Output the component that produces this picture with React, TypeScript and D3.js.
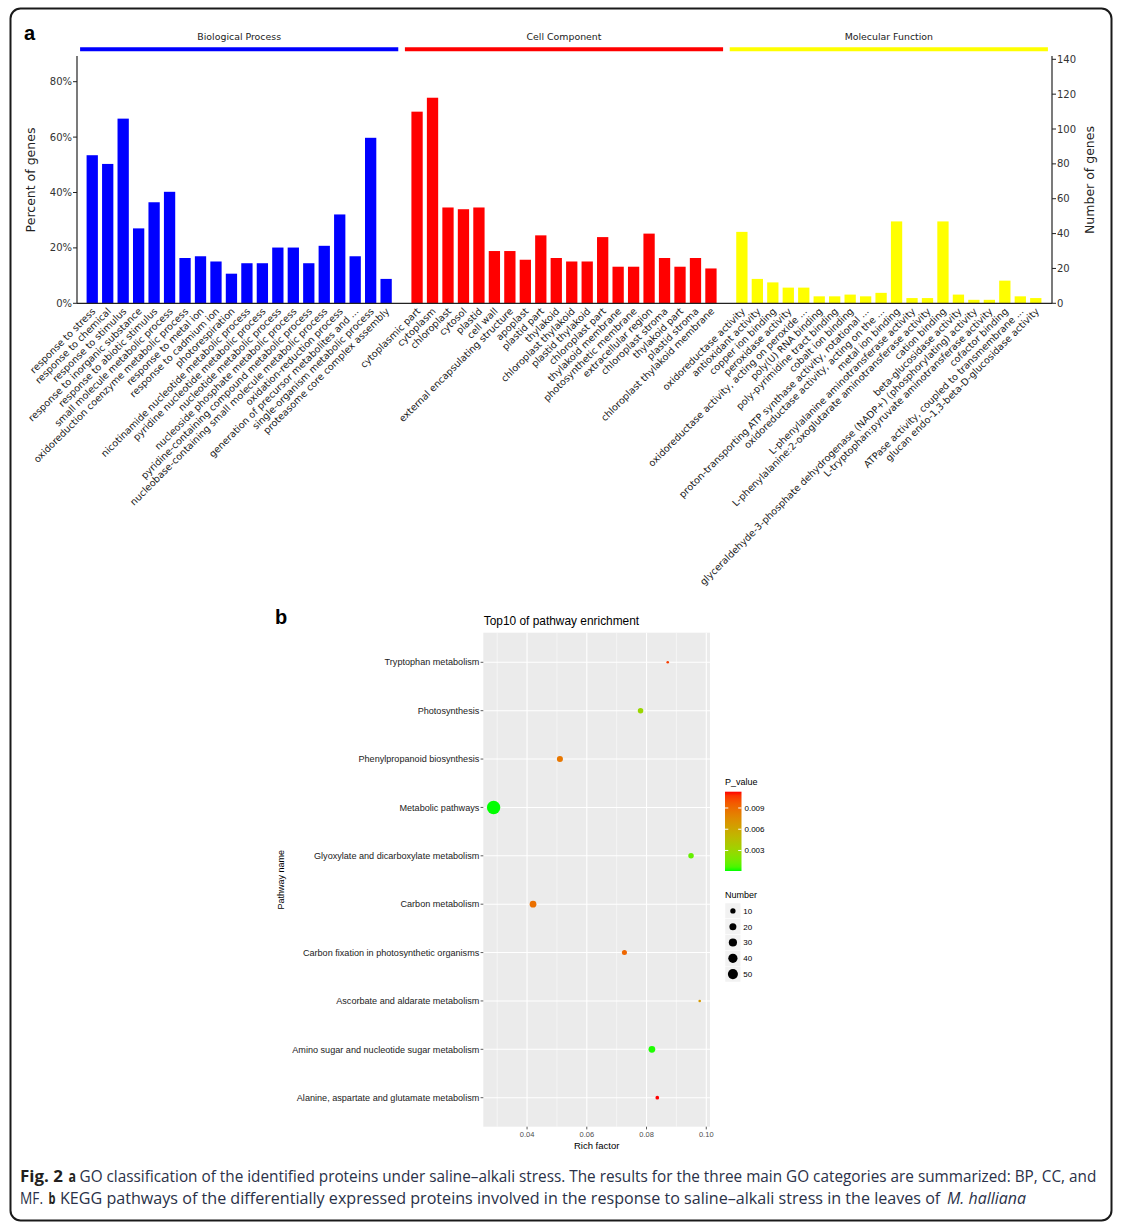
import React, { useLayoutEffect, useRef, useState } from 'react';
import * as d3 from 'd3';

// ---------- Panel a: GO classification ----------
const bpTerms = [
  'response to stress', 'response to chemical', 'response to stimulus', 'response to inorganic substance',
  'response to abiotic stimulus', 'small molecule metabolic process', 'oxidoreduction coenzyme metabolic process',
  'response to metal ion', 'response to cadmium ion', 'photorespiration', 'nicotinamide nucleotide metabolic process',
  'pyridine nucleotide metabolic process', 'nucleotide metabolic process', 'nucleoside phosphate metabolic process',
  'pyridine-containing compound metabolic process', 'nucleobase-containing small molecule metabolic process',
  'oxidation-reduction process', 'generation of precursor metabolites and ...', 'single-organism metabolic process',
  'proteasome core complex assembly',
];
const bpCounts = [85, 80, 106, 43, 58, 64, 26, 27, 24, 17, 23, 23, 32, 32, 23, 33, 51, 27, 95, 14];

const ccTerms = [
  'cytoplasmic part', 'cytoplasm', 'chloroplast', 'cytosol', 'plastid', 'cell wall', 'external encapsulating structure',
  'apoplast', 'plastid part', 'thylakoid', 'chloroplast thylakoid', 'plastid thylakoid', 'chloroplast part',
  'thylakoid membrane', 'photosynthetic membrane', 'extracellular region', 'chloroplast stroma', 'thylakoid part',
  'plastid stroma', 'chloroplast thylakoid membrane',
];
const ccCounts = [110, 118, 55, 54, 55, 30, 30, 25, 39, 26, 24, 24, 38, 21, 21, 40, 26, 21, 26, 20];

const mfTerms = [
  'oxidoreductase activity', 'antioxidant activity', 'copper ion binding', 'peroxidase activity',
  'oxidoreductase activity, acting on peroxide ...', 'poly(U) RNA binding', 'poly-pyrimidine tract binding',
  'cobalt ion binding', 'proton-transporting ATP synthase activity, rotational ...',
  'oxidoreductase activity, acting on the ...', 'metal ion binding', 'L-phenylalanine aminotransferase activity',
  'L-phenylalanine:2-oxoglutarate aminotransferase activity', 'cation binding', 'beta-glucosidase activity',
  'glyceraldehyde-3-phosphate dehydrogenase (NADP+) (phosphorylating) activity',
  'L-tryptophan:pyruvate aminotransferase activity', 'cofactor binding',
  'ATPase activity, coupled to transmembrane ...', 'glucan endo-1,3-beta-D-glucosidase activity',
];
const mfCounts = [41, 14, 12, 9, 9, 4, 4, 5, 4, 6, 47, 3, 3, 47, 5, 2, 2, 13, 4, 3];

const groupNames = ['Biological Process', 'Cell Component', 'Molecular Function'];
const groupColors = ['#0000FF', '#FF0000', '#FFFF00'];
const totalGenes = 159;
const percentTicks = [0, 20, 40, 60, 80];
const countTicks = [0, 20, 40, 60, 80, 100, 120, 140];

// ---------- Panel b: KEGG enrichment ----------
const pathways = [
  'Tryptophan metabolism', 'Photosynthesis', 'Phenylpropanoid biosynthesis', 'Metabolic pathways',
  'Glyoxylate and dicarboxylate metabolism', 'Carbon metabolism', 'Carbon fixation in photosynthetic organisms',
  'Ascorbate and aldarate metabolism', 'Amino sugar and nucleotide sugar metabolism',
  'Alanine, aspartate and glutamate metabolism',
];
const richFactor = [0.0871, 0.078, 0.051, 0.0288, 0.0949, 0.042, 0.0726, 0.0978, 0.0818, 0.0836];
const pValue = [0.0105, 0.003, 0.0085, 0.0001, 0.0012, 0.0088, 0.0092, 0.0068, 0.0002, 0.0113];
const geneNumber = [4, 11, 14, 100, 11, 18, 9, 4, 18, 5];
const richTicks = [0.04, 0.06, 0.08, 0.1];
const richMinor = [0.03, 0.05, 0.07, 0.09];
const pTicks = [0.003, 0.006, 0.009];
const sizeTicks = [10, 20, 30, 40, 50];

// ---------- caption pieces ----------
const captionPieces = [
  { text: 'Fig. 2', x: 20, y: 1181.5, w: 43, weight: 'bold', style: 'normal' },
  { text: 'a', x: 68.5, y: 1181.5, w: 7.5, weight: 'bold', style: 'normal' },
  { text: 'GO classification of the identified proteins under saline–alkali stress. The results for the three main GO categories are summarized: BP, CC, and', x: 79.5, y: 1181.5, w: 1018, weight: 'normal', style: 'normal' },
  { text: 'MF.', x: 20, y: 1203.5, w: 23, weight: 'normal', style: 'normal' },
  { text: 'b', x: 48.5, y: 1203.5, w: 7, weight: 'bold', style: 'normal' },
  { text: 'KEGG pathways of the differentially expressed proteins involved in the response to saline–alkali stress in the leaves of', x: 60, y: 1203.5, w: 881, weight: 'normal', style: 'normal' },
  { text: 'M. halliana', x: 947, y: 1203.5, w: 79, weight: 'normal', style: 'italic' },
];

const SANS = "'DejaVu Sans', sans-serif";
const ARIAL = "'Liberation Sans', Arial, sans-serif";
const CAP = "'Open Sans', 'DejaVu Sans Condensed', sans-serif";

export default function App() {
  const capRefs = useRef<(SVGTextElement | null)[]>([]);
  const [capScales, setCapScales] = useState<number[]>(captionPieces.map(() => 0.8));
  useLayoutEffect(() => {
    setCapScales(
      captionPieces.map((c, i) => {
        const el = capRefs.current[i];
        if (!el) return 0.8;
        const len = el.getComputedTextLength();
        return len > 0 ? c.w / len : 0.8;
      })
    );
  }, []);

  // ---- top chart scales
  const groups = [
    { name: groupNames[0], color: groupColors[0], terms: bpTerms, counts: bpCounts, key: 'BP' },
    { name: groupNames[1], color: groupColors[1], terms: ccTerms, counts: ccCounts, key: 'CC' },
    { name: groupNames[2], color: groupColors[2], terms: mfTerms, counts: mfCounts, key: 'MF' },
  ];
  const keys: string[] = [];
  groups.forEach((g, gi) => {
    g.terms.forEach((_, i) => keys.push(`${g.key}${i}`));
    if (gi < groups.length - 1) keys.push(`gap${gi}`);
  });
  const x = d3.scaleBand<string>().domain(keys).range([84.5, 1043.5]).paddingInner(0.27).paddingOuter(0.135);
  const bw = x.bandwidth();
  const yPct = d3.scaleLinear().domain([0, 100]).range([303.3, 26.3]);
  const yCnt = d3.scaleLinear().domain([0, 140]).range([303.3, 59.3]);
  const axisL = 77;
  const axisR = 1052;
  const base = yPct(0);

  // ---- bottom chart scales
  const [rMin, rMax] = d3.extent(richFactor) as [number, number];
  const rw = rMax - rMin;
  const px0 = 483.3, px1 = 710, py0 = 632.7, py1 = 1126.7;
  const xr = d3.scaleLinear().domain([rMin - 0.05 * rw, rMax + 0.05 * rw]).range([px0, px1]);
  const yb = d3.scalePoint<string>().domain(pathways).range([662.3, 1097.7]);
  const [pMin, pMax] = d3.extent(pValue) as [number, number];
  const color = d3.scaleLinear<string>().domain([pMin, pMax]).range(['#00FF00', '#FF0000']).interpolate(d3.interpolateLab);
  const [nMin, nMax] = d3.extent(geneNumber) as [number, number];
  const radius = (n: number) => 1.3 + 5.4 * Math.sqrt(Math.max(0, (n - nMin) / (nMax - nMin)));
  const cbTop = 791.7, cbBot = 871, cbX = 725, cbW = 16.5;
  const pY = d3.scaleLinear().domain([pMin, pMax]).range([cbBot, cbTop]);
  const gradStops = d3.range(0, 1.0001, 0.05).map((t) => ({ t, c: color(pMin + t * (pMax - pMin)) }));
  const keySize = 15.8;
  const keyTop = 903;

  return (
    <svg width={1124} height={1226} style={{ position: 'absolute', left: 0, top: 0, background: '#fff' }}>
      <defs>
        <linearGradient id="pgrad" x1="0" y1="1" x2="0" y2="0">
          {gradStops.map((s, i) => (
            <stop key={i} offset={`${s.t * 100}%`} stopColor={s.c} />
          ))}
        </linearGradient>
      </defs>
      <rect x={0} y={0} width={1124} height={1226} fill="#fff" />
      <rect x={10.5} y={8.5} width={1101} height={1212} rx={10} ry={10} fill="none" stroke="#1a1a1a" strokeWidth={2} />

      {/* ---------- panel a ---------- */}
      <text x={24} y={40} fontFamily={ARIAL} fontWeight="bold" fontSize={20} fill="#000">a</text>

      {groups.map((g) => {
        const first = x(`${g.key}0`)!;
        const last = x(`${g.key}${g.terms.length - 1}`)! + bw;
        return (
          <g key={g.key}>
            <line x1={first - 6.5} x2={last + 6.5} y1={49.3} y2={49.3} stroke={g.color} strokeWidth={4} />
            <text x={(first + last) / 2} y={40} textAnchor="middle" fontFamily={SANS} fontSize={9.4} fill="#222">{g.name}</text>
            {g.counts.map((c, i) => {
              const k = `${g.key}${i}`;
              const yv = yPct((c / totalGenes) * 100);
              return <rect key={k} x={x(k)!} y={yv} width={bw} height={base - yv} fill={g.color} />;
            })}
            {g.terms.map((t, i) => {
              const cx = x(`${g.key}${i}`)! + bw / 2;
              return (
                <text key={`l${i}`} transform={`translate(${cx + 1.5},${309.5}) rotate(-45)`} textAnchor="end" dy="0.35em"
                  fontFamily={SANS} fontSize={9.6} fill="#222">{t}</text>
              );
            })}
          </g>
        );
      })}

      {/* axes */}
      <line x1={axisL} x2={axisL} y1={56} y2={base} stroke="#222" strokeWidth={1.2} />
      <line x1={axisR} x2={axisR} y1={56} y2={base} stroke="#222" strokeWidth={1.2} />
      <line x1={axisL} x2={axisR} y1={base} y2={base} stroke="#222" strokeWidth={1.2} />
      {percentTicks.map((t) => (
        <g key={`p${t}`}>
          <line x1={axisL - 4} x2={axisL} y1={yPct(t)} y2={yPct(t)} stroke="#222" />
          <text x={axisL - 5} y={yPct(t)} dy="0.35em" textAnchor="end" fontFamily={SANS} fontSize={10} fill="#333">{`${t}%`}</text>
        </g>
      ))}
      {countTicks.map((t) => (
        <g key={`c${t}`}>
          <line x1={axisR} x2={axisR + 4} y1={yCnt(t)} y2={yCnt(t)} stroke="#222" />
          <text x={axisR + 5} y={yCnt(t)} dy="0.35em" textAnchor="start" fontFamily={SANS} fontSize={10} fill="#333">{t}</text>
        </g>
      ))}
      <text transform={`translate(35,180) rotate(-90)`} textAnchor="middle" fontFamily={SANS} fontSize={12.5} fill="#222">Percent of genes</text>
      <text transform={`translate(1094,180) rotate(-90)`} textAnchor="middle" fontFamily={SANS} fontSize={12.5} fill="#222">Number of genes</text>

      {/* ---------- panel b ---------- */}
      <text x={275} y={624} fontFamily={ARIAL} fontWeight="bold" fontSize={20} fill="#000">b</text>
      <text x={px0 + 0.5} y={625} fontFamily={ARIAL} fontSize={11.9} fill="#000">Top10 of pathway enrichment</text>
      <rect x={px0} y={py0} width={px1 - px0} height={py1 - py0} fill="#EBEBEB" />
      {richMinor.map((t) => (
        <line key={`m${t}`} x1={xr(t)} x2={xr(t)} y1={py0} y2={py1} stroke="#fff" strokeWidth={0.5} />
      ))}
      {richTicks.map((t) => (
        <line key={`g${t}`} x1={xr(t)} x2={xr(t)} y1={py0} y2={py1} stroke="#fff" strokeWidth={1.1} />
      ))}
      {pathways.map((p) => (
        <line key={`h${p}`} x1={px0} x2={px1} y1={yb(p)} y2={yb(p)} stroke="#fff" strokeWidth={1.1} />
      ))}
      {pathways.map((p, i) => (
        <circle key={`d${p}`} cx={xr(richFactor[i])} cy={yb(p)} r={radius(geneNumber[i])} fill={color(pValue[i])} />
      ))}
      {pathways.map((p) => (
        <g key={`yl${p}`}>
          <line x1={px0 - 2.7} x2={px0} y1={yb(p)} y2={yb(p)} stroke="#333" strokeWidth={0.8} />
          <text x={px0 - 4} y={yb(p)} dy="0.35em" textAnchor="end" fontFamily={ARIAL} fontSize={9.1} fill="#222">{p}</text>
        </g>
      ))}
      {richTicks.map((t) => (
        <g key={`xl${t}`}>
          <line x1={xr(t)} x2={xr(t)} y1={py1} y2={py1 + 2.7} stroke="#333" strokeWidth={0.8} />
          <text x={xr(t)} y={py1 + 10} textAnchor="middle" fontFamily={ARIAL} fontSize={7.5} fill="#4D4D4D">{t.toFixed(2)}</text>
        </g>
      ))}
      <text x={(px0 + px1) / 2} y={1149} textAnchor="middle" fontFamily={ARIAL} fontSize={9.5} fill="#000">Rich factor</text>
      <text transform={`translate(284,${(py0 + py1) / 2}) rotate(-90)`} textAnchor="middle" fontFamily={ARIAL} fontSize={9} fill="#000">Pathway name</text>

      {/* legends */}
      <text x={cbX} y={785} fontFamily={ARIAL} fontSize={9} fill="#000">P_value</text>
      <rect x={cbX} y={cbTop} width={cbW} height={cbBot - cbTop} fill="url(#pgrad)" />
      {pTicks.map((t) => (
        <g key={`pt${t}`}>
          <line x1={cbX} x2={cbX + 3.3} y1={pY(t)} y2={pY(t)} stroke="#fff" strokeWidth={1} />
          <line x1={cbX + cbW - 3.3} x2={cbX + cbW} y1={pY(t)} y2={pY(t)} stroke="#fff" strokeWidth={1} />
          <text x={cbX + cbW + 3} y={pY(t)} dy="0.35em" fontFamily={ARIAL} fontSize={8} fill="#000">{t.toFixed(3)}</text>
        </g>
      ))}
      <text x={cbX} y={898} fontFamily={ARIAL} fontSize={9} fill="#000">Number</text>
      {sizeTicks.map((n, i) => {
        const ky = keyTop + i * keySize;
        return (
          <g key={`s${n}`}>
            <rect x={cbX} y={ky} width={keySize} height={keySize} fill="#F2F2F2" stroke="#fff" strokeWidth={0.5} />
            <circle cx={cbX + keySize / 2} cy={ky + keySize / 2} r={radius(n)} fill="#000" />
            <text x={cbX + keySize + 2.5} y={ky + keySize / 2} dy="0.35em" fontFamily={ARIAL} fontSize={8} fill="#000">{n}</text>
          </g>
        );
      })}

      {/* caption */}
      {captionPieces.map((c, i) => (
        <text key={`cap${i}`} ref={(el) => { capRefs.current[i] = el; }}
          transform={`translate(${c.x},${c.y}) scale(${capScales[i]},1)`}
          fontFamily={CAP} fontSize={16.5} fontWeight={c.weight} fontStyle={c.style}
          fill={c.weight === 'bold' ? '#231F20' : '#2A3148'}>{c.text}</text>
      ))}
    </svg>
  );
}
